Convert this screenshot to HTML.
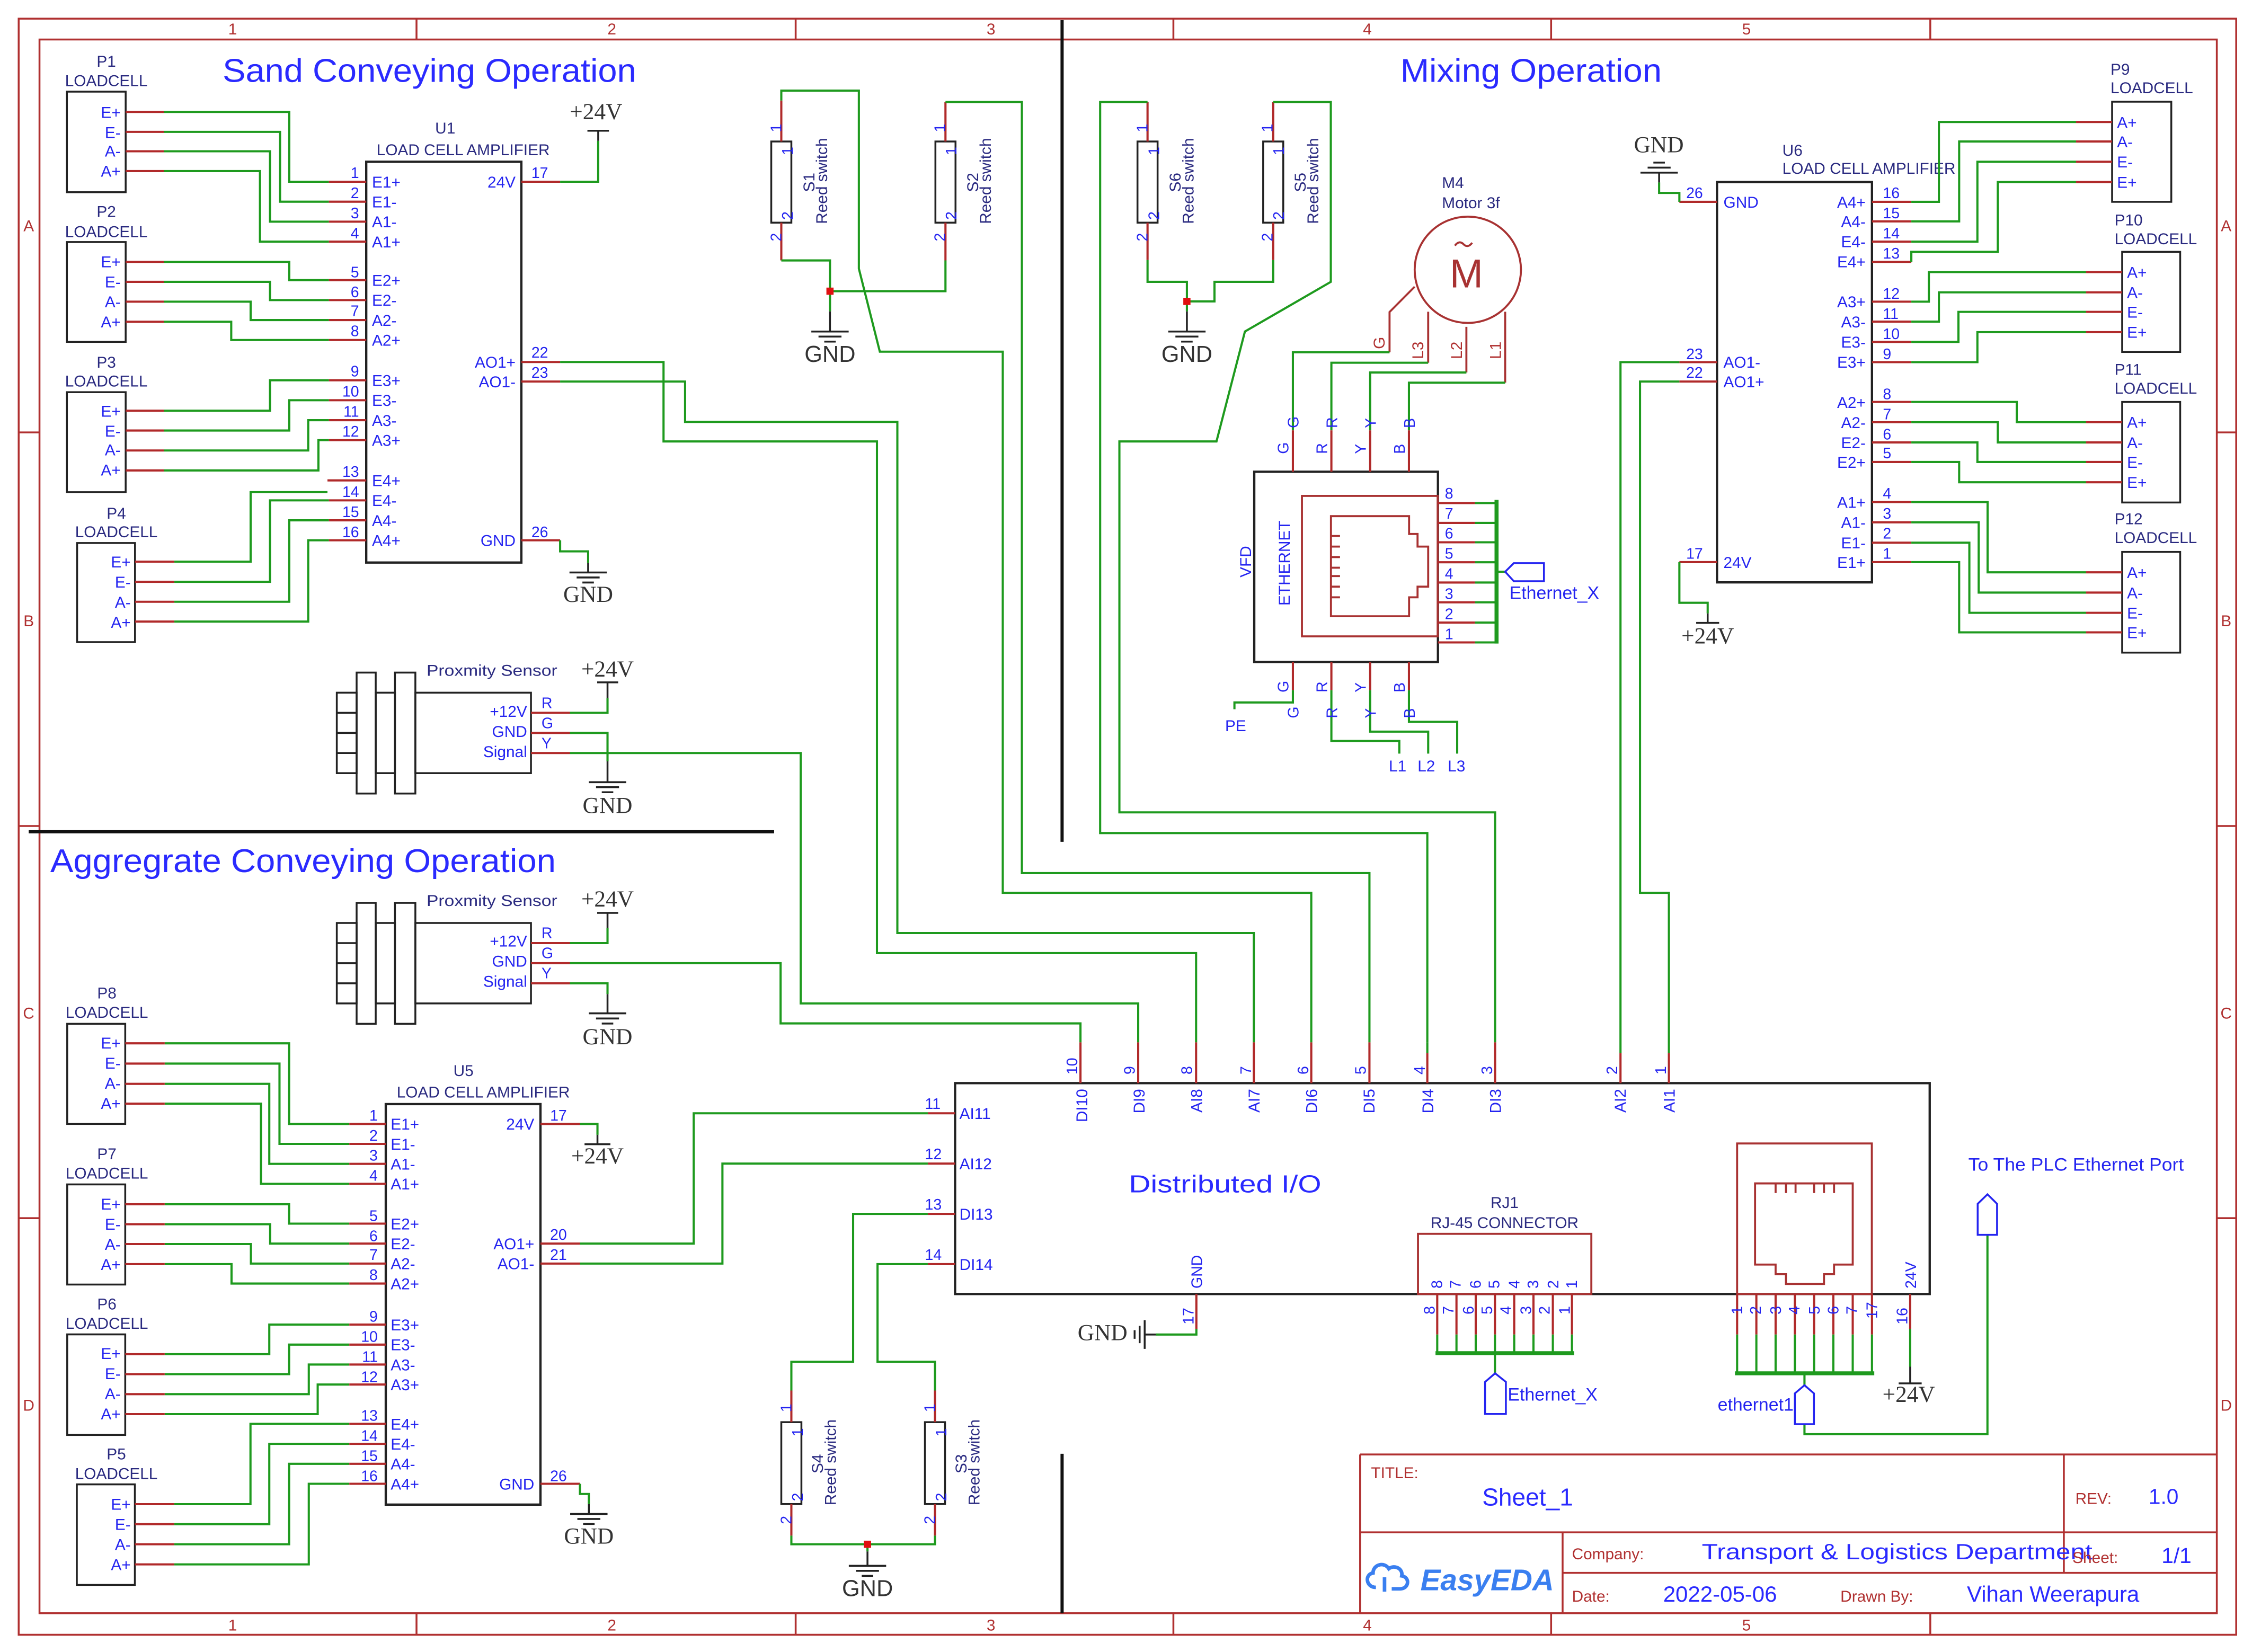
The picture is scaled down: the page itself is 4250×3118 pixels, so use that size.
<!DOCTYPE html>
<html><head><meta charset="utf-8"><style>
html,body{margin:0;padding:0;background:#fff;}
svg{display:block}
.f{stroke:#b03030;fill:none;stroke-width:1.3}
.w{stroke:#1e9a1e;fill:none;stroke-width:1.5}
.p{stroke:#b02a2a;fill:none;stroke-width:1.5}
.b{stroke:#222;fill:none;stroke-width:1.6}
.k{stroke:#222;fill:none;stroke-width:1.3}
.r{stroke:#a83232;fill:none;stroke-width:1.4}
text{font-family:"Liberation Sans",sans-serif;}
.t{fill:#2424f0;font-size:11px}
.n{fill:#2424f0;font-size:10.5px}
.c{fill:#2a2a80;font-size:11px}
.g{fill:#333;font-family:"Liberation Serif",serif;font-size:16px}
.fr{fill:#b03030;font-size:11px}
.big{fill:#2a2aff;font-size:23px}
</style></head><body>
<svg width="4250" height="3118" viewBox="0 0 1568 1150" preserveAspectRatio="none" xmlns="http://www.w3.org/2000/svg">
<rect x="0" y="0" width="1568" height="1150" fill="#fff"/>
<!-- Frame -->
<rect class="f" x="13" y="13" width="1544" height="1125"/>
<rect class="f" x="27.5" y="27.5" width="1516" height="1095.5"/>
<path class="f" d="M290 13V27.5M554 13V27.5M817 13V27.5M1080 13V27.5M1344 13V27.5M290 1123V1138M554 1123V1138M817 1123V1138M1080 1123V1138M1344 1123V1138M13 301H27.5M13 575H27.5M13 848H27.5M1543 301H1557M1543 575H1557M1543 848H1557"/>
<g class="fr" text-anchor="middle">
<text x="162" y="24">1</text><text x="426" y="24">2</text><text x="690" y="24">3</text><text x="952" y="24">4</text><text x="1216" y="24">5</text>
<text x="162" y="1135">1</text><text x="426" y="1135">2</text><text x="690" y="1135">3</text><text x="952" y="1135">4</text><text x="1216" y="1135">5</text>
<text x="20" y="161">A</text><text x="20" y="436">B</text><text x="20" y="709">C</text><text x="20" y="982">D</text>
<text x="1550" y="161">A</text><text x="1550" y="436">B</text><text x="1550" y="709">C</text><text x="1550" y="982">D</text>
</g>
<!-- dividers -->
<path d="M739.5 14V586M20 579H539M739.5 1012V1123" stroke="#111" stroke-width="2.2" fill="none"/>
<!-- titles -->
<text class="big" x="155" y="57" textLength="288" lengthAdjust="spacingAndGlyphs">Sand Conveying Operation</text>
<text class="big" x="975" y="57" textLength="182" lengthAdjust="spacingAndGlyphs">Mixing Operation</text>
<text class="big" x="35" y="607" textLength="352" lengthAdjust="spacingAndGlyphs">Aggregrate Conveying Operation</text>

<!-- ============ UPPER LEFT LOADCELLS ============ -->
<g class="k">
<rect x="46.6" y="63.8" width="40.9" height="70"/>
<rect x="46.6" y="168.5" width="40.9" height="69.5"/>
<rect x="46.6" y="273" width="40.9" height="69.6"/>
<rect x="53.7" y="378" width="40.3" height="69"/>
</g>
<path class="p" d="M87.5 77.9H114M87.5 91.8H114M87.5 105.3H114M87.5 119.1H114M87.5 182.3H114M87.5 196.2H114M87.5 210H114M87.5 224H114M87.5 285.9H114M87.5 299.7H114M87.5 313.6H114M87.5 327.5H114M94 391H121.4M94 405H121.4M94 418.9H121.4M94 432.7H121.4"/>
<g class="t" text-anchor="end">
<text x="84" y="82">E+</text><text x="84" y="96">E-</text><text x="84" y="109">A-</text><text x="84" y="123">A+</text>
<text x="84" y="186">E+</text><text x="84" y="200">E-</text><text x="84" y="214">A-</text><text x="84" y="228">A+</text>
<text x="84" y="290">E+</text><text x="84" y="304">E-</text><text x="84" y="317">A-</text><text x="84" y="331">A+</text>
<text x="91" y="395">E+</text><text x="91" y="409">E-</text><text x="91" y="423">A-</text><text x="91" y="437">A+</text>
</g>
<g class="c" text-anchor="middle">
<text x="74" y="46.5">P1</text><text x="74" y="60">LOADCELL</text>
<text x="74" y="151">P2</text><text x="74" y="165">LOADCELL</text>
<text x="74" y="256">P3</text><text x="74" y="269">LOADCELL</text>
<text x="81" y="361">P4</text><text x="81" y="374">LOADCELL</text>
</g>
<path class="w" d="M114 77.9H201.4V126.5H229M114 91.8H195V140.4H229M114 105.3H188V154.3H229M114 119.1H181V168.2H229
M114 182.3H201.4V195H229M114 196.2H188V208.9H229M114 210H174.5V222.8H229M114 224H161V236.7H229
M114 285.9H188V264.7H229M114 299.7H201.4V278.6H229M114 313.6H214.6V292.5H229M114 327.5H221.7V306.4H229
M121.4 391H174.5V342.6H228M121.4 405H188V348.3H229M121.4 418.9H201.4V362.2H229M121.4 432.7H214.6V376.1H229"/>
<!-- U1 -->
<rect class="b" x="255" y="112.6" width="108" height="279"/>
<path class="p" d="M229 126.5H255M229 140.4H255M229 154.3H255M229 168.2H255M229 195H255M229 208.9H255M229 222.8H255M229 236.7H255M229 264.7H255M229 278.6H255M229 292.5H255M229 306.4H255M228 334.4H255M229 348.3H255M229 362.2H255M229 376.1H255M363 126.5H390M363 252H390M363 265.6H390M363 376.1H390"/>
<g class="t">
<text x="259" y="130.5">E1+</text><text x="259" y="144.4">E1-</text><text x="259" y="158.3">A1-</text><text x="259" y="172.2">A1+</text>
<text x="259" y="199">E2+</text><text x="259" y="212.9">E2-</text><text x="259" y="226.8">A2-</text><text x="259" y="240.7">A2+</text>
<text x="259" y="268.7">E3+</text><text x="259" y="282.6">E3-</text><text x="259" y="296.5">A3-</text><text x="259" y="310.4">A3+</text>
<text x="259" y="338.4">E4+</text><text x="259" y="352.3">E4-</text><text x="259" y="366.2">A4-</text><text x="259" y="380.1">A4+</text>
</g>
<g class="t" text-anchor="end"><text x="359" y="130.5">24V</text><text x="359" y="256">AO1+</text><text x="359" y="269.6">AO1-</text><text x="359" y="380.1">GND</text></g>
<g class="n" text-anchor="end">
<text x="250" y="124">1</text><text x="250" y="138">2</text><text x="250" y="152">3</text><text x="250" y="166">4</text>
<text x="250" y="193">5</text><text x="250" y="207">6</text><text x="250" y="220">7</text><text x="250" y="234">8</text>
<text x="250" y="262">9</text><text x="250" y="276">10</text><text x="250" y="290">11</text><text x="250" y="304">12</text>
<text x="250" y="332">13</text><text x="250" y="346">14</text><text x="250" y="360">15</text><text x="250" y="374">16</text>
</g>
<g class="n"><text x="370" y="124">17</text><text x="370" y="249">22</text><text x="370" y="263">23</text><text x="370" y="374">26</text></g>
<g class="c" text-anchor="middle"><text x="310" y="93">U1</text><text x="322.5" y="108">LOAD CELL AMPLIFIER</text></g>
<path class="w" d="M390 126.5H416.5V98"/>
<path class="k" d="M416.5 98V91M409 91H424"/>
<text class="g" x="415" y="83" text-anchor="middle">+24V</text>
<path class="w" d="M390 376.1V383.8H409.5V392"/>
<path class="k" d="M409.5 392V398.5M396.5 398.5H422.5M401.5 402H417.5M405.5 405.5H413.5"/>
<text class="g" x="409.5" y="419" text-anchor="middle">GND</text>
<path class="w" d="M390 252H462V307.3H610.6V663.5H832.8V725.6M390 265.6H477V293.7H624.8V649.5H873V725.6"/>

<!-- Sensor 1 -->
<g class="k">
<rect x="234.5" y="482.2" width="13.8" height="56"/>
<path d="M234.5 496.2H248.3M234.5 510.2H248.3M234.5 524.2H248.3"/>
<rect x="248.3" y="468.2" width="13.3" height="84.2"/>
<rect x="261.6" y="482.2" width="13.4" height="56"/>
<rect x="275" y="468.2" width="14.2" height="84.2"/>
<rect x="289.2" y="482.2" width="80.5" height="56"/>
</g>
<path class="p" d="M369.7 496.2H396.8M369.7 510.2H396.8M369.7 524.2H396.8"/>
<g class="t" text-anchor="end"><text x="367" y="499">+12V</text><text x="367" y="513">GND</text><text x="367" y="527">Signal</text></g>
<g class="n"><text x="377" y="493">R</text><text x="377" y="507">G</text><text x="377" y="521">Y</text></g>
<text class="c" x="297" y="470.4" textLength="91" lengthAdjust="spacingAndGlyphs">Proxmity Sensor</text>
<path class="w" d="M396.8 496.2H423V486M396.8 510.2H423V530M396.8 524.2H557.5V698.5H792.5V725.6"/>
<path class="k" d="M423 486V475M415.8 475H430.4M423 530V544.5M410 544.5H436M415 548H431M419 551.5H427"/>
<text class="g" x="423" y="471" text-anchor="middle">+24V</text>
<text class="g" x="423" y="566" text-anchor="middle">GND</text>
<!-- Sensor 2 -->
<g class="k">
<rect x="234.5" y="642.5" width="13.8" height="56"/>
<path d="M234.5 656.5H248.3M234.5 670.5H248.3M234.5 684.5H248.3"/>
<rect x="248.3" y="628.5" width="13.3" height="84.2"/>
<rect x="261.6" y="642.5" width="13.4" height="56"/>
<rect x="275" y="628.5" width="14.2" height="84.2"/>
<rect x="289.2" y="642.5" width="80.5" height="56"/>
</g>
<path class="p" d="M369.7 656.5H396.8M369.7 670.5H396.8M369.7 684.5H396.8"/>
<g class="t" text-anchor="end"><text x="367" y="659">+12V</text><text x="367" y="673">GND</text><text x="367" y="687">Signal</text></g>
<g class="n"><text x="377" y="653">R</text><text x="377" y="667">G</text><text x="377" y="681">Y</text></g>
<text class="c" x="297" y="630.7" textLength="91" lengthAdjust="spacingAndGlyphs">Proxmity Sensor</text>
<path class="w" d="M396.8 656.5H423V646M396.8 684.5H423V692M396.8 670.5H543.5V712.4H752.3V725.6"/>
<path class="k" d="M423 646V635.5M415.8 635.5H430.4M423 692V705.4M410 705.4H436M415 709H431M419 712.5H427"/>
<text class="g" x="423" y="631" text-anchor="middle">+24V</text>
<text class="g" x="423" y="727" text-anchor="middle">GND</text>

<!-- ============ LOWER LEFT ============ -->
<g class="k">
<rect x="46.8" y="712.7" width="40.4" height="69.7"/>
<rect x="46.8" y="824.5" width="40.4" height="69.7"/>
<rect x="46.8" y="928.9" width="40.4" height="70"/>
<rect x="53.5" y="1033.3" width="40.4" height="70"/>
</g>
<path class="p" d="M87.2 726.3H114.7M87.2 740.4H114.7M87.2 754.5H114.7M87.2 768.3H114.7M87.2 838.3H114.7M87.2 852.2H114.7M87.2 866H114.7M87.2 880H114.7M87.2 942.7H114.7M87.2 956.6H114.7M87.2 970.5H114.7M87.2 984.4H114.7M93.9 1047.1H121.4M93.9 1061H121.4M93.9 1075H121.4M93.9 1089H121.4"/>
<g class="t" text-anchor="end">
<text x="84" y="730">E+</text><text x="84" y="744">E-</text><text x="84" y="758">A-</text><text x="84" y="772">A+</text>
<text x="84" y="842">E+</text><text x="84" y="856">E-</text><text x="84" y="870">A-</text><text x="84" y="884">A+</text>
<text x="84" y="946">E+</text><text x="84" y="960">E-</text><text x="84" y="974">A-</text><text x="84" y="988">A+</text>
<text x="91" y="1051">E+</text><text x="91" y="1065">E-</text><text x="91" y="1079">A-</text><text x="91" y="1093">A+</text>
</g>
<g class="c" text-anchor="middle">
<text x="74.4" y="695">P8</text><text x="74.4" y="708.5">LOADCELL</text>
<text x="74.4" y="807">P7</text><text x="74.4" y="820.5">LOADCELL</text>
<text x="74.4" y="911.5">P6</text><text x="74.4" y="925">LOADCELL</text>
<text x="81" y="1016">P5</text><text x="81" y="1029.5">LOADCELL</text>
</g>
<path class="w" d="M114.7 726.3H201.3V782.4H243.2M114.7 740.4H194.6V796.3H243.2M114.7 754.5H187.5V810.2H243.2M114.7 768.3H181.7V824.1H243.2
M114.7 838.3H201.3V851.8H243.2M114.7 852.2H188.1V865.7H243.2M114.7 866H174.7V879.6H243.2M114.7 880H161.2V893.5H243.2
M114.7 942.7H187.5V922.1H243.2M114.7 956.6H201.3V936H243.2M114.7 970.5H215V949.9H243.2M114.7 984.4H221.2V963.8H243.2
M121.4 1047.1H174.4V991.2H243.2M121.4 1061H187.5V1005.1H243.2M121.4 1075H201.3V1019H243.2M121.4 1089H215V1032.9H243.2"/>
<rect class="b" x="268.6" y="768.6" width="107.7" height="278.8"/>
<path class="p" d="M243.2 782.4H268.6M243.2 796.3H268.6M243.2 810.2H268.6M243.2 824.1H268.6M243.2 851.8H268.6M243.2 865.7H268.6M243.2 879.6H268.6M243.2 893.5H268.6M243.2 922.1H268.6M243.2 936H268.6M243.2 949.9H268.6M243.2 963.8H268.6M243.2 991.2H268.6M243.2 1005.1H268.6M243.2 1019H268.6M243.2 1032.9H268.6M376.3 782.4H403.8M376.3 865.7H403.8M376.3 879.6H403.8M376.3 1032.9H403.8"/>
<g class="t">
<text x="272" y="786.4">E1+</text><text x="272" y="800.3">E1-</text><text x="272" y="814.2">A1-</text><text x="272" y="828.1">A1+</text>
<text x="272" y="855.8">E2+</text><text x="272" y="869.7">E2-</text><text x="272" y="883.6">A2-</text><text x="272" y="897.5">A2+</text>
<text x="272" y="926.1">E3+</text><text x="272" y="940">E3-</text><text x="272" y="953.9">A3-</text><text x="272" y="967.8">A3+</text>
<text x="272" y="995.2">E4+</text><text x="272" y="1009.1">E4-</text><text x="272" y="1023">A4-</text><text x="272" y="1036.9">A4+</text>
</g>
<g class="t" text-anchor="end"><text x="372" y="786.4">24V</text><text x="372" y="869.7">AO1+</text><text x="372" y="883.6">AO1-</text><text x="372" y="1036.9">GND</text></g>
<g class="n" text-anchor="end">
<text x="263" y="780">1</text><text x="263" y="794">2</text><text x="263" y="808">3</text><text x="263" y="822">4</text>
<text x="263" y="850">5</text><text x="263" y="864">6</text><text x="263" y="877">7</text><text x="263" y="891">8</text>
<text x="263" y="920">9</text><text x="263" y="934">10</text><text x="263" y="948">11</text><text x="263" y="962">12</text>
<text x="263" y="989">13</text><text x="263" y="1003">14</text><text x="263" y="1017">15</text><text x="263" y="1031">16</text>
</g>
<g class="n"><text x="383" y="780">17</text><text x="383" y="863">20</text><text x="383" y="877">21</text><text x="383" y="1031">26</text></g>
<g class="c" text-anchor="middle"><text x="322.7" y="749">U5</text><text x="336.5" y="764">LOAD CELL AMPLIFIER</text></g>
<path class="w" d="M403.8 782.4H416V790"/>
<path class="k" d="M416 790V796.5M407 796.5H425"/>
<text class="g" x="416" y="810" text-anchor="middle">+24V</text>
<path class="w" d="M403.8 1032.9V1040H410V1047"/>
<path class="k" d="M410 1047V1053.9M397 1053.9H423M402 1057.4H418M406 1060.9H414"/>
<text class="g" x="410" y="1074.5" text-anchor="middle">GND</text>
<path class="w" d="M403.8 865.7H483V775H646M403.8 879.6H503V810H646"/>

<!-- ============ Reed switches top ============ -->
<g class="k">
<rect x="537" y="98.5" width="14" height="56.5"/><rect x="651.3" y="98.5" width="14" height="56.5"/>
<rect x="792" y="98.5" width="14" height="56.5"/><rect x="879.5" y="98.5" width="14" height="56.5"/>
<rect x="544" y="990" width="14" height="57"/><rect x="644" y="990" width="14" height="57"/>
</g>
<path class="p" d="M544 70V98.5M544 155V181.3M658.3 71V98.5M658.3 155V181.3M799 71V98.5M799 155V181M886.5 71V98.5M886.5 155V181M551 968V990M551 1047V1069M651 968V990M651 1047V1069"/>
<path class="w" d="M544 70V63.1H598V187L612.6 244.8H698.2V621.5H913V725.6
M658.3 71H711.5V607.8H953.5V725.6
M544 181.3H577.9V216.8M577.9 202.7H658.3V181.3
M799 71H766V579.9H993.8V725.6
M886.5 71H926.6V196.2L866.8 230.8L847 307.3H779.4V565.5H1041V725.6
M799 181V196.2H826.4V216.8M826.4 209.8H845.6V196.2H886.5V181
M646 845H594V948H551V968M646 880H611V948H651V968
M551 1069V1075H651V1069M604 1075V1080"/>
<g fill="#e01010"><rect x="575.4" y="200.2" width="5" height="5"/><rect x="823.9" y="207.3" width="5" height="5"/><rect x="601.5" y="1072.5" width="5" height="5"/></g>
<path class="k" d="M577.9 216.8V230.8M564.9 230.8H590.9M569.9 234.3H585.9M573.9 237.8H581.9
M826.4 216.8V230.8M813.4 230.8H839.4M818.4 234.3H834.4M822.4 237.8H830.4
M604 1080V1090M591 1090H617M596 1093.5H612M600 1097H608"/>
<g class="g" text-anchor="middle"><text x="577.9" y="252">GND</text><text x="826.4" y="252">GND</text><text x="604" y="1111">GND</text></g>
<g class="n">
<text transform="translate(544,92) rotate(-90)">1</text><text transform="translate(544,168) rotate(-90)">2</text>
<text transform="translate(658,92) rotate(-90)">1</text><text transform="translate(658,168) rotate(-90)">2</text>
<text transform="translate(799,92) rotate(-90)">1</text><text transform="translate(799,168) rotate(-90)">2</text>
<text transform="translate(886,92) rotate(-90)">1</text><text transform="translate(886,168) rotate(-90)">2</text>
<text transform="translate(551,983) rotate(-90)">1</text><text transform="translate(551,1061) rotate(-90)">2</text>
<text transform="translate(651,983) rotate(-90)">1</text><text transform="translate(651,1061) rotate(-90)">2</text>
<text transform="translate(552,108) rotate(-90)">1</text><text transform="translate(552,153) rotate(-90)">2</text>
<text transform="translate(666,108) rotate(-90)">1</text><text transform="translate(666,153) rotate(-90)">2</text>
<text transform="translate(807,108) rotate(-90)">1</text><text transform="translate(807,153) rotate(-90)">2</text>
<text transform="translate(894,108) rotate(-90)">1</text><text transform="translate(894,153) rotate(-90)">2</text>
<text transform="translate(559,1000) rotate(-90)">1</text><text transform="translate(559,1045) rotate(-90)">2</text>
<text transform="translate(659,1000) rotate(-90)">1</text><text transform="translate(659,1045) rotate(-90)">2</text>
</g>
<g class="c" font-size="10.5px" text-anchor="middle">
<text transform="translate(567,127) rotate(-90)">S1</text><text transform="translate(576,126) rotate(-90)">Reed switch</text>
<text transform="translate(681,127) rotate(-90)">S2</text><text transform="translate(690,126) rotate(-90)">Reed switch</text>
<text transform="translate(822,127) rotate(-90)">S6</text><text transform="translate(831,126) rotate(-90)">Reed switch</text>
<text transform="translate(909,127) rotate(-90)">S5</text><text transform="translate(918,126) rotate(-90)">Reed switch</text>
<text transform="translate(573,1019) rotate(-90)">S4</text><text transform="translate(582,1018) rotate(-90)">Reed switch</text>
<text transform="translate(673,1019) rotate(-90)">S3</text><text transform="translate(682,1018) rotate(-90)">Reed switch</text>
</g>

<!-- ============ Motor & VFD ============ -->
<circle class="r" cx="1022" cy="187.8" r="37"/>
<text x="1021" y="200" text-anchor="middle" font-size="28" fill="#a83232" font-family="Liberation Sans,sans-serif">M</text>
<path class="r" d="M1013 171q3 -4 6 -1t6 -1"/>
<text class="c" x="1004" y="131">M4</text><text class="c" x="1004" y="145">Motor 3f</text>
<path class="r" d="M985 199.6L967.5 217.2V245.2M994.4 217V252.5M1021 227.5V259.3M1048 217V266.4"/>
<g class="fr" font-size="10px" fill="#a83232">
<text transform="translate(964,243) rotate(-90)">G</text><text transform="translate(991,250) rotate(-90)">L3</text>
<text transform="translate(1018,250) rotate(-90)">L2</text><text transform="translate(1045,250) rotate(-90)">L1</text>
</g>
<path class="w" d="M967.5 245.2H900.2V299.6M994.4 252.5H927V299.6M1021 259.3H954V299.6M1048 266.4H981V299.6"/>
<rect class="b" x="873.3" y="328.4" width="127.9" height="132.4"/>
<rect class="r" x="906.5" y="345.2" width="94.5" height="97.8"/>
<path class="r" d="M926.7 359.3H981.1V371.7H987V380.5H994.4V408.4H987V415.8H981.1V429H926.7ZM926.7 373.1H933M926.7 380.5H933M926.7 387.8H933M926.7 395.2H933M926.7 401H933M926.7 408.4H933M926.7 415.8H933"/>
<path class="p" d="M900.2 299.6V328.4M927 299.6V328.4M954 299.6V328.4M981 299.6V328.4M900.2 460.8V480.5M927 460.8V480.5M954 460.8V480.5M981 460.8V480.5
M1001.2 350.2H1027M1001.2 364H1027M1001.2 377.5H1027M1001.2 391.4H1027M1001.2 405.5H1027M1001.2 419.3H1027M1001.2 433.4H1027M1001.2 447.2H1027"/>
<path class="w" d="M1027 350.2H1042M1027 364H1042M1027 377.5H1042M1027 391.4H1042M1027 405.5H1042M1027 419.3H1042M1027 433.4H1042M1027 447.2H1042M1042 398H1048
M900.2 480.5V489H859.5V493.7M927 480.5V515.8H974.3V524.6M954 480.5V509.3H994.4V524.6M981 480.5V502.5H1014.6V524.6"/>
<path d="M1042 348V448" stroke="#1e9a1e" stroke-width="2.8"/>
<path d="M1048 398L1054 392H1075V404.6H1054Z" fill="none" stroke="#2424f0" stroke-width="1.3"/>
<text x="1051" y="417" fill="#2424f0" font-family="Liberation Serif,serif" font-size="12.5">Ethernet_X</text>
<g class="n">
<text x="1006" y="347">8</text><text x="1006" y="361">7</text><text x="1006" y="375">6</text><text x="1006" y="389">5</text><text x="1006" y="403">4</text><text x="1006" y="417">3</text><text x="1006" y="431">2</text><text x="1006" y="445">1</text>
<text transform="translate(904,298) rotate(-90)">G</text><text transform="translate(931,298) rotate(-90)">R</text><text transform="translate(958,298) rotate(-90)">Y</text><text transform="translate(985,298) rotate(-90)">B</text>
<text transform="translate(897,316) rotate(-90)">G</text><text transform="translate(924,316) rotate(-90)">R</text><text transform="translate(951,316) rotate(-90)">Y</text><text transform="translate(978,316) rotate(-90)">B</text>
<text transform="translate(897,482) rotate(-90)">G</text><text transform="translate(924,482) rotate(-90)">R</text><text transform="translate(951,482) rotate(-90)">Y</text><text transform="translate(978,482) rotate(-90)">B</text>
<text transform="translate(904,500) rotate(-90)">G</text><text transform="translate(931,500) rotate(-90)">R</text><text transform="translate(958,500) rotate(-90)">Y</text><text transform="translate(985,500) rotate(-90)">B</text>
</g>
<g class="t" font-size="12px">
<text transform="translate(871,391) rotate(-90)" text-anchor="middle">VFD</text>
<text transform="translate(898,392) rotate(-90)" text-anchor="middle">ETHERNET</text>
<text x="853" y="509">PE</text>
<text x="967" y="537">L1</text><text x="987" y="537">L2</text><text x="1008" y="537">L3</text>
</g>

<!-- ============ U6 & right loadcells ============ -->
<rect class="b" x="1195.5" y="126.7" width="107.9" height="278.7"/>
<path class="p" d="M1169.3 140.5H1195.5M1169.3 252.1H1195.5M1169.3 265.6H1195.5M1169.3 391.3H1195.5
M1303.4 140.5H1330.8M1303.4 154.1H1330.8M1303.4 168.2H1330.8M1303.4 182.3H1330.8M1303.4 210H1330.8M1303.4 223.9H1330.8M1303.4 238H1330.8M1303.4 252.1H1330.8M1303.4 279.8H1330.8M1303.4 293.9H1330.8M1303.4 308H1330.8M1303.4 321.6H1330.8M1303.4 349.5H1330.8M1303.4 363.6H1330.8M1303.4 377.8H1330.8M1303.4 391.3H1330.8"/>
<g class="t"><text x="1200" y="144.5">GND</text><text x="1200" y="256">AO1-</text><text x="1200" y="269.6">AO1+</text><text x="1200" y="395.3">24V</text></g>
<g class="t" text-anchor="end">
<text x="1299" y="144.5">A4+</text><text x="1299" y="158">A4-</text><text x="1299" y="172">E4-</text><text x="1299" y="186">E4+</text>
<text x="1299" y="214">A3+</text><text x="1299" y="228">A3-</text><text x="1299" y="242">E3-</text><text x="1299" y="256">E3+</text>
<text x="1299" y="284">A2+</text><text x="1299" y="298">A2-</text><text x="1299" y="312">E2-</text><text x="1299" y="325.6">E2+</text>
<text x="1299" y="353.5">A1+</text><text x="1299" y="367.6">A1-</text><text x="1299" y="381.8">E1-</text><text x="1299" y="395.3">E1+</text>
</g>
<g class="n">
<text x="1311" y="138">16</text><text x="1311" y="152">15</text><text x="1311" y="166">14</text><text x="1311" y="180">13</text>
<text x="1311" y="208">12</text><text x="1311" y="222">11</text><text x="1311" y="236">10</text><text x="1311" y="250">9</text>
<text x="1311" y="278">8</text><text x="1311" y="292">7</text><text x="1311" y="306">6</text><text x="1311" y="319">5</text>
<text x="1311" y="347">4</text><text x="1311" y="361">3</text><text x="1311" y="375">2</text><text x="1311" y="389">1</text>
<text x="1174" y="138">26</text><text x="1174" y="250">23</text><text x="1174" y="263">22</text><text x="1174" y="389">17</text>
</g>
<g class="c"><text x="1241" y="108.5">U6</text><text x="1241" y="121">LOAD CELL AMPLIFIER</text></g>
<path class="w" d="M1169.3 140.5V134.3H1155.2V127M1169.3 252.1H1128.3V733M1169.3 265.6H1141.9V621.5H1162V733M1169.3 391.3V419.6H1189V427"/>
<path class="k" d="M1155.2 127V120.2M1142.2 120.2H1168.2M1147.2 116.7H1163.2M1151.2 113.2H1159.2M1189 427V433.6M1181 433.6H1197"/>
<text class="g" x="1155" y="106" text-anchor="middle">GND</text>
<text class="g" x="1189" y="448" text-anchor="middle">+24V</text>
<g class="k">
<rect x="1470.6" y="70.8" width="41.2" height="69.7"/>
<rect x="1477.6" y="175.3" width="40.4" height="69.7"/>
<rect x="1477.6" y="279.8" width="40.4" height="70"/>
<rect x="1477.6" y="384.2" width="40.4" height="70.1"/>
</g>
<path class="p" d="M1445.5 84.9H1470.6M1445.5 98.5H1470.6M1445.5 112.6H1470.6M1445.5 126.7H1470.6
M1452.5 189.4H1477.6M1452.5 203.5H1477.6M1452.5 217.1H1477.6M1452.5 231.2H1477.6
M1452.5 293.9H1477.6M1452.5 308H1477.6M1452.5 321.6H1477.6M1452.5 335.7H1477.6
M1452.5 398.4H1477.6M1452.5 412.5H1477.6M1452.5 426.6H1477.6M1452.5 440.2H1477.6"/>
<g class="t">
<text x="1474" y="89">A+</text><text x="1474" y="102.5">A-</text><text x="1474" y="116.6">E-</text><text x="1474" y="130.7">E+</text>
<text x="1481" y="193.4">A+</text><text x="1481" y="207.5">A-</text><text x="1481" y="221.1">E-</text><text x="1481" y="235.2">E+</text>
<text x="1481" y="297.9">A+</text><text x="1481" y="312">A-</text><text x="1481" y="325.6">E-</text><text x="1481" y="339.7">E+</text>
<text x="1481" y="402.4">A+</text><text x="1481" y="416.5">A-</text><text x="1481" y="430.6">E-</text><text x="1481" y="444.2">E+</text>
</g>
<g class="c">
<text x="1469.5" y="52">P9</text><text x="1469.5" y="65">LOADCELL</text>
<text x="1472.3" y="157">P10</text><text x="1472.3" y="170">LOADCELL</text>
<text x="1472.3" y="261">P11</text><text x="1472.3" y="274">LOADCELL</text>
<text x="1472.3" y="365">P12</text><text x="1472.3" y="378">LOADCELL</text>
</g>
<path class="w" d="M1330.8 140.5H1350V84.9H1445.5M1330.8 154.1H1364.1V98.5H1445.5M1330.8 168.2H1376.8V112.6H1445.5M1330.8 182.3V175.3H1391V126.7H1445.5
M1330.8 210H1343V189.4H1452.5M1330.8 223.9H1350V203.5H1452.5M1330.8 238H1363.6V217.1H1452.5M1330.8 252.1H1376.8V231.2H1452.5
M1330.8 279.8H1404.2V293.9H1452.5M1330.8 293.9H1391V308H1452.5M1330.8 308H1376.8V321.6H1452.5M1330.8 321.6H1364.1V335.7H1452.5
M1330.8 349.5H1383.9V398.4H1452.5M1330.8 363.6H1377.7V412.5H1452.5M1330.8 377.8H1371.2V426.6H1452.5M1330.8 391.3H1364.1V440.2H1452.5"/>

<!-- ============ Distributed I/O ============ -->
<rect class="b" x="665" y="754" width="678.6" height="146.8"/>
<path class="p" d="M752.3 725.6V754M792.5 725.6V754M832.8 725.6V754M873 725.6V754M913 725.6V754M953.5 725.6V754M993.8 733V754M1041 725.6V754M1128.3 733V754M1162 733V754
M646 775H665M646 810H665M646 845H665M646 880H665M833 900.8V925M1330 900.8V925"/>
<path class="w" d="M993.8 725.6V733"/>
<g class="n">
<text transform="translate(750,748) rotate(-90)">10</text><text transform="translate(790,748) rotate(-90)">9</text><text transform="translate(830,748) rotate(-90)">8</text><text transform="translate(871,748) rotate(-90)">7</text><text transform="translate(911,748) rotate(-90)">6</text><text transform="translate(951,748) rotate(-90)">5</text><text transform="translate(992,748) rotate(-90)">4</text><text transform="translate(1039,748) rotate(-90)">3</text><text transform="translate(1126,748) rotate(-90)">2</text><text transform="translate(1160,748) rotate(-90)">1</text>
<text x="644" y="772">11</text><text x="644" y="807">12</text><text x="644" y="842">13</text><text x="644" y="877">14</text>
</g>
<g class="t" font-family="Liberation Serif,serif" font-size="11px" text-anchor="end">
<text transform="translate(757,758) rotate(-90)">DI10</text><text transform="translate(797,758) rotate(-90)">DI9</text><text transform="translate(837,758) rotate(-90)">AI8</text><text transform="translate(877,758) rotate(-90)">AI7</text><text transform="translate(917,758) rotate(-90)">DI6</text><text transform="translate(957,758) rotate(-90)">DI5</text><text transform="translate(998,758) rotate(-90)">DI4</text><text transform="translate(1045,758) rotate(-90)">DI3</text><text transform="translate(1132,758) rotate(-90)">AI2</text><text transform="translate(1166,758) rotate(-90)">AI1</text>
</g>
<g class="t" font-family="Liberation Serif,serif" font-size="12px">
<text x="668" y="779">AI11</text><text x="668" y="814">AI12</text><text x="668" y="849">DI13</text><text x="668" y="884">DI14</text>
</g>
<text x="786" y="830" fill="#2a2aff" font-size="17" textLength="134" lengthAdjust="spacingAndGlyphs">Distributed I/O</text>
<g class="n">
<text transform="translate(837,897) rotate(-90)">GND</text><text transform="translate(831,922) rotate(-90)">17</text>
<text transform="translate(1334,897) rotate(-90)">24V</text><text transform="translate(1328,922) rotate(-90)">16</text>
</g>
<path class="w" d="M833 925V929H804.8M1330 925V951.4"/>
<path class="k" d="M804.8 929H797M797 919V939M793.5 923V935M790 926V932M1330 951.4V963M1322 963H1338"/>
<text class="g" x="785" y="933" text-anchor="end">GND</text>
<text class="g" x="1329" y="976" text-anchor="middle">+24V</text>

<!-- RJ1 -->
<rect class="r" x="987.3" y="858.9" width="120.7" height="41.9"/>
<g class="c" text-anchor="middle"><text x="1047.6" y="841">RJ1</text><text x="1047.6" y="855" font-size="11px">RJ-45 CONNECTOR</text></g>
<path class="p" d="M1000.7 900.8V929M1014.1 900.8V929M1027.5 900.8V929M1040.9 900.8V929M1054.3 900.8V929M1067.7 900.8V929M1081.2 900.8V929M1094.5 900.8V929"/>
<path class="w" d="M1000.7 929V942M1014.1 929V942M1027.5 929V942M1040.9 929V956M1054.3 929V942M1067.7 929V942M1081.2 929V942M1094.5 929V942"/>
<path d="M999.5 942H1096" stroke="#1e9a1e" stroke-width="2.8"/>
<path d="M1041 956L1048.5 962V984.3H1034V962Z" fill="none" stroke="#2424f0" stroke-width="1.3"/>
<text x="1049.8" y="975" fill="#2424f0" font-family="Liberation Serif,serif" font-size="12.5">Ethernet_X</text>
<g class="n" font-size="9.5px">
<text transform="translate(1004,897) rotate(-90)">8</text><text transform="translate(1017,897) rotate(-90)">7</text><text transform="translate(1031,897) rotate(-90)">6</text><text transform="translate(1044,897) rotate(-90)">5</text><text transform="translate(1058,897) rotate(-90)">4</text><text transform="translate(1071,897) rotate(-90)">3</text><text transform="translate(1085,897) rotate(-90)">2</text><text transform="translate(1098,897) rotate(-90)">1</text>
<text transform="translate(999,915) rotate(-90)">8</text><text transform="translate(1012,915) rotate(-90)">7</text><text transform="translate(1026,915) rotate(-90)">6</text><text transform="translate(1039,915) rotate(-90)">5</text><text transform="translate(1052,915) rotate(-90)">4</text><text transform="translate(1066,915) rotate(-90)">3</text><text transform="translate(1079,915) rotate(-90)">2</text><text transform="translate(1093,915) rotate(-90)">1</text>
</g>
<!-- Ethernet jack -->
<rect class="r" x="1209.5" y="796" width="93.8" height="104.8"/>
<path class="r" d="M1222 823.8H1290V880.3H1277V887H1270V893.8H1243.5V887H1236.3V880.3H1222ZM1236.3 823.8V830.5M1243.5 823.8V830.5M1250.2 823.8V830.5M1263.1 823.8V830.5M1270 823.8V830.5M1277 823.8V830.5"/>
<path class="p" d="M1209.5 900.8V929M1222.9 900.8V929M1236.3 900.8V929M1249.7 900.8V929M1263.1 900.8V929M1276.5 900.8V929M1290 900.8V929M1303.4 900.8V929"/>
<path class="w" d="M1209.5 929V956M1222.9 929V956M1236.3 929V956M1249.7 929V956M1263.1 929V956M1276.5 929V956M1290 929V956M1303.4 929V956M1256.4 956V964.3M1256.4 991.4V998.4H1383.8V859.6"/>
<path d="M1208 956H1305" stroke="#1e9a1e" stroke-width="2.8"/>
<path d="M1256.4 964.3L1263 970V991.4H1249.7V970Z" fill="none" stroke="#2424f0" stroke-width="1.3"/>
<path d="M1383.8 831.4L1390.5 838V859.6H1377V838Z" fill="none" stroke="#2424f0" stroke-width="1.3"/>
<text x="1248.8" y="982" text-anchor="end" fill="#2424f0" font-family="Liberation Serif,serif" font-size="12.5">ethernet1</text>
<text x="1370.5" y="815" fill="#2424f0" font-family="Liberation Serif,serif" font-size="12.5" textLength="150" lengthAdjust="spacingAndGlyphs">To The PLC Ethernet Port</text>
<g class="n" font-size="9.5px">
<text transform="translate(1213,915) rotate(-90)">1</text><text transform="translate(1226,915) rotate(-90)">2</text><text transform="translate(1240,915) rotate(-90)">3</text><text transform="translate(1253,915) rotate(-90)">4</text><text transform="translate(1267,915) rotate(-90)">5</text><text transform="translate(1280,915) rotate(-90)">6</text><text transform="translate(1293,915) rotate(-90)">7</text><text transform="translate(1307,918) rotate(-90)">17</text>
</g>

<!-- ============ Title block ============ -->
<path class="f" d="M947 1012.5H1543M947 1012.5V1123M947 1066.7H1543M1088 1066.7V1123M1088 1094.9H1543M1437 1012.5V1094.9"/>
<text class="fr" x="954.6" y="1029" font-size="13">TITLE:</text>
<text x="1032" y="1048" fill="#2a2aff" font-size="17">Sheet_1</text>
<text class="fr" x="1445" y="1047" font-size="13">REV:</text>
<text x="1496" y="1047" fill="#2a2aff" font-size="15">1.0</text>
<text class="fr" x="1094.5" y="1085.5" font-size="13">Company:</text>
<text x="1184.9" y="1085.5" fill="#2a2aff" font-size="15.5" textLength="272" lengthAdjust="spacingAndGlyphs">Transport &amp; Logistics Department</text>
<text class="fr" x="1443" y="1088" font-size="13">Sheet:</text>
<text x="1505" y="1088" fill="#2a2aff" font-size="15">1/1</text>
<text class="fr" x="1094.5" y="1115" font-size="13">Date:</text>
<text x="1158" y="1115" fill="#2a2aff" font-size="15.5">2022-05-06</text>
<text class="fr" x="1281.4" y="1115" font-size="13">Drawn By:</text>
<text x="1369.5" y="1115" fill="#2a2aff" font-size="15.5">Vihan Weerapura</text>
<path d="M958 1105c-7 0-8-9-2-10c0-6 8-8 11-3c4-3 10 0 9 5c6 1 5 9-1 9h-6m-5 -8v10" fill="none" stroke="#3a7ff0" stroke-width="2.5"/>
<text x="989" y="1107" fill="#3a7ff0" font-size="21" font-weight="bold" font-style="italic" textLength="93" lengthAdjust="spacingAndGlyphs">EasyEDA</text>
</svg>
</body></html>
